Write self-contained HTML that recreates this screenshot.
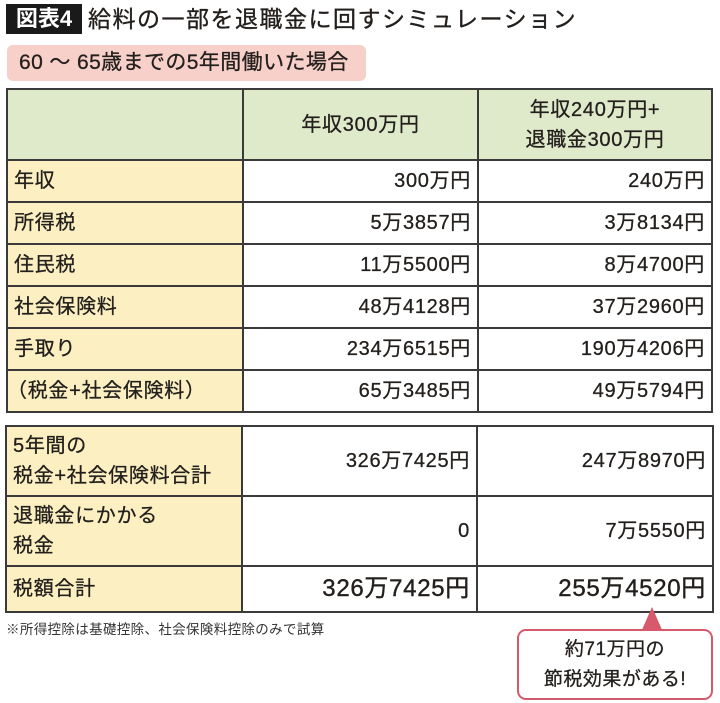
<!DOCTYPE html>
<html>
<head>
<meta charset="utf-8">
<style>
html,body{margin:0;padding:0;background:#fff;}
body{width:720px;height:703px;position:relative;overflow:hidden;font-family:"Liberation Sans","Noto Sans CJK JP",sans-serif;color:#231f1c;}
.a{position:absolute;}
.c{position:absolute;display:flex;align-items:center;box-sizing:border-box;font-size:20px;letter-spacing:0.7px;line-height:30px;white-space:nowrap;-webkit-text-stroke:0.3px #231f1c;}
.l{justify-content:flex-start;padding-left:7px;}
.r{justify-content:flex-end;padding-right:7px;}
.m{justify-content:center;text-align:center;}
.h{position:absolute;height:2px;background:#3a3a3a;}
.v{position:absolute;width:2px;background:#3a3a3a;}
</style>
</head>
<body>
<!-- Title -->
<div class="a" style="left:6px;top:4px;width:76px;height:30px;background:#1a1a1a;color:#fff;font-size:22px;line-height:30px;text-align:center;font-weight:bold;">図表4</div>
<div class="a" style="left:88px;top:4px;height:30px;font-size:23px;line-height:30px;letter-spacing:1.5px;white-space:nowrap;-webkit-text-stroke:0.35px #231f1c;">給料の一部を退職金に回すシミュレーション</div>

<!-- Subtitle pill -->
<div class="a" style="left:7px;top:45px;width:359px;height:36px;background:#f7d0ca;border-radius:6px;"></div>
<div class="a" style="left:19px;top:45px;height:36px;font-size:21px;line-height:36px;letter-spacing:0.4px;white-space:nowrap;-webkit-text-stroke:0.3px #231f1c;">60 ～ 65歳までの5年間働いた場合</div>

<!-- Table 1 backgrounds -->
<div class="a" style="left:7px;top:89px;width:705px;height:71px;background:#dfeacb;"></div>
<div class="a" style="left:7px;top:160px;width:236px;height:252px;background:#fcf0c3;"></div>

<!-- Table 1 lines -->
<div class="h" style="left:6px;top:88px;width:707px;"></div>
<div class="h" style="left:6px;top:159px;width:707px;"></div>
<div class="h" style="left:6px;top:201px;width:707px;"></div>
<div class="h" style="left:6px;top:243px;width:707px;"></div>
<div class="h" style="left:6px;top:285px;width:707px;"></div>
<div class="h" style="left:6px;top:327px;width:707px;"></div>
<div class="h" style="left:6px;top:369px;width:707px;"></div>
<div class="h" style="left:6px;top:411px;width:707px;"></div>
<div class="v" style="left:6px;top:88px;height:325px;"></div>
<div class="v" style="left:242px;top:88px;height:325px;"></div>
<div class="v" style="left:477px;top:88px;height:325px;"></div>
<div class="v" style="left:711px;top:88px;height:325px;"></div>

<!-- Table 1 header text -->
<div class="c m" style="left:243px;top:89px;width:235px;height:71px;">年収300万円</div>
<div class="c m" style="left:478px;top:89px;width:234px;height:71px;">年収240万円+<br>退職金300万円</div>

<!-- Table 1 rows -->
<div class="c l" style="left:7px;top:160px;width:236px;height:42px;">年収</div>
<div class="c r" style="left:243px;top:160px;width:235px;height:42px;">300万円</div>
<div class="c r" style="left:478px;top:160px;width:234px;height:42px;">240万円</div>

<div class="c l" style="left:7px;top:202px;width:236px;height:42px;">所得税</div>
<div class="c r" style="left:243px;top:202px;width:235px;height:42px;">5万3857円</div>
<div class="c r" style="left:478px;top:202px;width:234px;height:42px;">3万8134円</div>

<div class="c l" style="left:7px;top:244px;width:236px;height:42px;">住民税</div>
<div class="c r" style="left:243px;top:244px;width:235px;height:42px;">11万5500円</div>
<div class="c r" style="left:478px;top:244px;width:234px;height:42px;">8万4700円</div>

<div class="c l" style="left:7px;top:286px;width:236px;height:42px;">社会保険料</div>
<div class="c r" style="left:243px;top:286px;width:235px;height:42px;">48万4128円</div>
<div class="c r" style="left:478px;top:286px;width:234px;height:42px;">37万2960円</div>

<div class="c l" style="left:7px;top:328px;width:236px;height:42px;">手取り</div>
<div class="c r" style="left:243px;top:328px;width:235px;height:42px;">234万6515円</div>
<div class="c r" style="left:478px;top:328px;width:234px;height:42px;">190万4206円</div>

<div class="c l" style="left:0px;top:370px;width:243px;height:42px;">（税金+社会保険料）</div>
<div class="c r" style="left:243px;top:370px;width:235px;height:42px;">65万3485円</div>
<div class="c r" style="left:478px;top:370px;width:234px;height:42px;">49万5794円</div>

<!-- Table 2 backgrounds -->
<div class="a" style="left:6px;top:426px;width:236px;height:186px;background:#fcf0c3;"></div>

<!-- Table 2 lines -->
<div class="h" style="left:5px;top:425px;width:709px;"></div>
<div class="h" style="left:5px;top:495px;width:709px;"></div>
<div class="h" style="left:5px;top:565px;width:709px;"></div>
<div class="h" style="left:5px;top:611px;width:709px;"></div>
<div class="v" style="left:5px;top:425px;height:188px;"></div>
<div class="v" style="left:241px;top:425px;height:188px;"></div>
<div class="v" style="left:476px;top:425px;height:188px;"></div>
<div class="v" style="left:712px;top:425px;height:188px;"></div>

<!-- Table 2 rows -->
<div class="c l" style="left:6px;top:426px;width:236px;height:70px;">5年間の<br>税金+社会保険料合計</div>
<div class="c r" style="left:242px;top:426px;width:235px;height:70px;">326万7425円</div>
<div class="c r" style="left:477px;top:426px;width:236px;height:70px;">247万8970円</div>

<div class="c l" style="left:6px;top:496px;width:236px;height:70px;">退職金にかかる<br>税金</div>
<div class="c r" style="left:242px;top:496px;width:235px;height:70px;">0</div>
<div class="c r" style="left:477px;top:496px;width:236px;height:70px;">7万5550円</div>

<div class="c l" style="left:6px;top:566px;width:236px;height:46px;">税額合計</div>
<div class="c r" style="left:242px;top:566px;width:235px;height:46px;font-size:24px;-webkit-text-stroke:0.4px #231f1c;">326万7425円</div>
<div class="c r" style="left:477px;top:566px;width:236px;height:46px;font-size:24px;-webkit-text-stroke:0.4px #231f1c;">255万4520円</div>

<!-- Footnote -->
<div class="a" style="left:6px;top:621px;font-size:13.5px;line-height:18px;letter-spacing:0.35px;white-space:nowrap;color:#333;">※所得控除は基礎控除、社会保険料控除のみで試算</div>

<!-- Callout -->
<svg class="a" style="left:0;top:0;" width="720" height="703">
<polygon points="641,632 652,607 663,632" fill="#d65a6c"/>
</svg>
<div class="a" style="left:517px;top:629px;width:196px;height:71px;box-sizing:border-box;border:2.5px solid #d65a6c;border-radius:9px;background:#fff;"></div>
<div class="a" style="left:517px;top:629px;width:196px;height:71px;display:flex;align-items:center;justify-content:center;text-align:center;font-size:19px;line-height:30px;letter-spacing:0.5px;-webkit-text-stroke:0.3px #231f1c;">約71万円の<br>節税効果がある!</div>
</body>
</html>
